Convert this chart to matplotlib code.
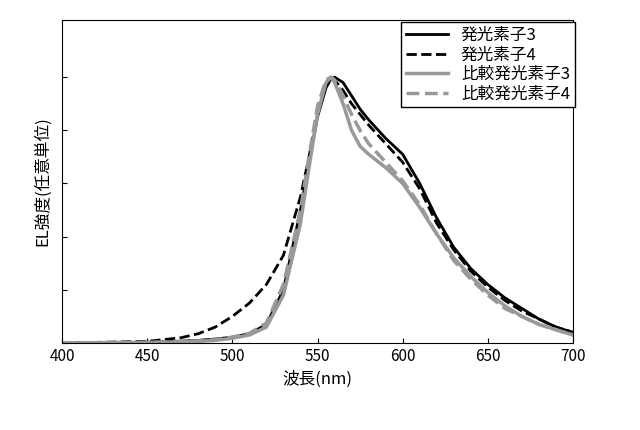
import matplotlib
matplotlib.use("Agg")
import matplotlib.pyplot as plt
import numpy as np
plt.rcParams['font.family'] = ['Noto Sans CJK JP']

wl = [400,450,470,480,490,500,510,520,530,540,545,550,555,558,560,565,570,575,580,590,600,610,620,630,640,650,660,670,680,690,700]
s3 = [0,0.003,0.007,0.01,0.015,0.022,0.035,0.07,0.2,0.5,0.68,0.85,0.96,0.995,1.0,0.98,0.93,0.88,0.84,0.77,0.71,0.6,0.47,0.36,0.28,0.22,0.17,0.13,0.09,0.06,0.04]
s4 = [0,0.006,0.02,0.035,0.06,0.1,0.15,0.22,0.33,0.55,0.7,0.86,0.97,1.0,0.99,0.95,0.9,0.86,0.82,0.75,0.68,0.58,0.45,0.35,0.27,0.21,0.16,0.12,0.09,0.06,0.04]
c3 = [0,0.002,0.004,0.006,0.01,0.018,0.03,0.06,0.18,0.45,0.66,0.86,0.98,1.0,0.98,0.9,0.8,0.74,0.71,0.66,0.6,0.51,0.41,0.32,0.25,0.19,0.14,0.1,0.07,0.05,0.03]
c4 = [0,0.002,0.005,0.008,0.012,0.022,0.036,0.075,0.22,0.5,0.7,0.89,0.99,1.0,0.99,0.93,0.86,0.8,0.75,0.68,0.61,0.52,0.41,0.31,0.24,0.18,0.13,0.1,0.07,0.05,0.03]
labels = ['発光素子3','発光素子4','比較発光素子3','比較発光素子4']

fig = plt.figure(figsize=(6.4,4.3), dpi=100)
ax = fig.add_axes([62/640, 1-343/430, 511/640, 323/430])
ax.plot(wl, s3, color='black', lw=2, label=labels[0])
ax.plot(wl, s4, color='black', lw=2, ls='--', label=labels[1])
ax.plot(wl, c3, color='#999999', lw=2.5, label=labels[2])
ax.plot(wl, c4, color='#999999', lw=2.5, ls='--', label=labels[3])
ax.set_xlim(400,700)
ax.set_ylim(0,1.215)
ax.set_xticks(range(400,701,50))
ax.set_yticks(np.arange(0,1.01,0.2))
ax.set_yticklabels([])
ax.tick_params(direction='in', labelsize=11)
ax.set_xlabel('波長(nm)', fontsize=12)
ax.set_ylabel('EL強度(任意単位)', fontsize=12)
leg = ax.legend(loc='upper right', bbox_to_anchor=(1.02, 1.02), fontsize=12, frameon=True, fancybox=False, edgecolor='black', borderpad=0.3, labelspacing=0.15, handlelength=2.5, framealpha=1)
fig.savefig('out.png', dpi=100)
